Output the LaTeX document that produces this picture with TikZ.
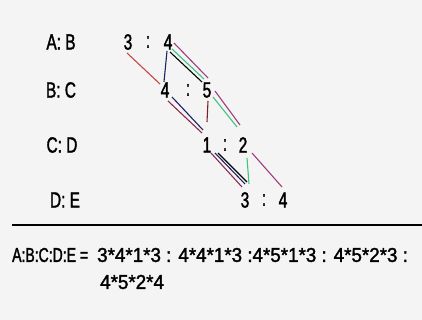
\documentclass[tikz,border=0pt]{standalone}
\usepackage{fontspec}
\setmainfont{Liberation Sans}[FakeStretch=0.7,FakeBold=1.6]
\newfontfamily\resfont{Liberation Sans}[FakeStretch=0.94,FakeBold=1.6]
\definecolor{bgc}{HTML}{F4F4F4}
\definecolor{lnred}{HTML}{C8463C}
\definecolor{lnnavy}{HTML}{1C2266}
\definecolor{lngreen}{HTML}{3CC47C}
\definecolor{lnpink}{HTML}{A03C82}
\definecolor{lnmaroon}{HTML}{8E2C48}
\definecolor{lndark}{HTML}{7A1F24}
\begin{document}
\begin{tikzpicture}[x=1pt,y=-1pt,
  num/.style={inner sep=0pt,font=\fontsize{22}{24}\selectfont},
  res/.style={inner sep=0pt,anchor=west,font=\resfont\fontsize{20}{22}\selectfont},
  link/.style={line width=1.1pt}]
\fill[bgc] (0,0) rectangle (422,320);
\useasboundingbox (0,0) rectangle (422,320);

% row labels
\node[num] (lab1) at (61,42) {A: B};
\node[num] (lab2) at (61,90) {B: C};
\node[num] (lab3) at (62,145) {C: D};
\node[num] (lab4) at (65,200) {D: E};

% ratios
\node[num] (r1a) at (128,42) {3};
\node[num] (c1) at (148,42) {:};
\node[num] (r1b) at (168,42) {4};
\node[num] (r2a) at (165,90) {4};
\node[num] (c2) at (188,90) {:};
\node[num] (r2b) at (207,90) {5};
\node[num] (r3a) at (207,145) {1};
\node[num] (c3) at (225,145) {:};
\node[num] (r3b) at (243,145) {2};
\node[num] (r4a) at (245,200) {3};
\node[num] (c4) at (264,200) {:};
\node[num] (r4b) at (283,200) {4};

% A:B -> B:C
\draw[link,lnred] ([shift={(-1,11)}]r1a.center) -- ([shift={(-5,-6)}]r2a.center);
\draw[link,lnnavy] ([shift={(-1,9)}]r1b.center) -- ([shift={(-1,-8)}]r2a.center);
\draw[link,black] ([shift={(2,10)}]r1b.center) -- ([shift={(-5,-8)}]r2b.center);
\draw[link,lngreen] ([shift={(4,7)}]r1b.center) -- ([shift={(-3,-11)}]r2b.center);
\draw[link,lnpink] ([shift={(6,1)}]r1b.center) -- ([shift={(1,-12)}]r2b.center);

% B:C -> C:D
\draw[link,lnnavy] ([shift={(7,7)}]r2a.center) -- ([shift={(-4,-15)}]r3a.center);
\draw[link,lnmaroon] ([shift={(3,11)}]r2a.center) -- ([shift={(-5,-12)}]r3a.center);
\draw[link,lndark] ([shift={(1,11)}]r2b.center) -- ([shift={(0,-23)}]r3a.center);
\draw[link,lnpink] ([shift={(8,1)}]r2b.center) -- ([shift={(-3,-20)}]r3b.center);
\draw[link,lngreen] ([shift={(6,7)}]r2b.center) -- ([shift={(-6,-18)}]r3b.center);

% C:D -> D:E
\draw[link,lnmaroon] ([shift={(4,8)}]r3a.center) -- ([shift={(-3,-13)}]r4a.center);
\draw[link,lnnavy] ([shift={(8,8)}]r3a.center) -- ([shift={(0,-16)}]r4a.center);
\draw[link,black] ([shift={(11,8)}]r3a.center) -- ([shift={(2,-18)}]r4a.center);
\draw[link,lngreen] ([shift={(4,13)}]r3b.center) -- ([shift={(4,-16)}]r4a.center);
\draw[link,lnpink] ([shift={(9,8)}]r3b.center) -- ([shift={(-1,-13)}]r4b.center);

% result
\coordinate (h1) at (12,225);
\coordinate (h2) at (422,225);
\draw[line width=1.5pt] (h1) -- (h2);
\node[res,font=\fontsize{20}{22}\selectfont] (eq0) at (12,255) {A:B:C:D:E =};
\node[res] (eq1) at (97,255) {3*4*1*3 : 4*4*1*3 :4*5*1*3 : 4*5*2*3 :};
\node[res] (eq2) at (100,282) {4*5*2*4};

\end{tikzpicture}
\end{document}
